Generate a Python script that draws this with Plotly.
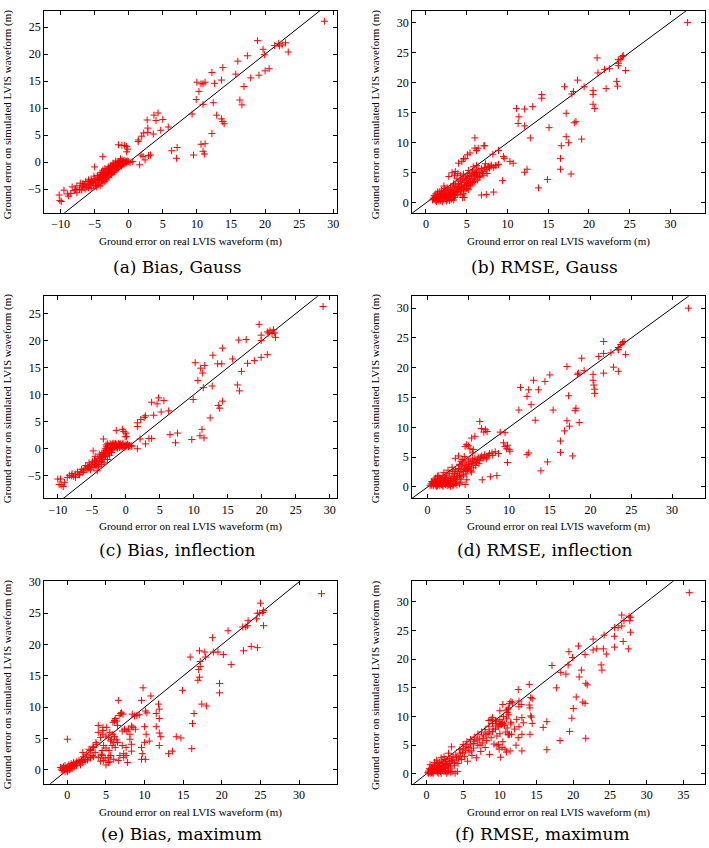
import plotly.graph_objects as go

W, H = 709, 848

# ---------------- data ----------------
bias_gauss = [
    (28.7, 26.1), (18.9, 22.5), (23.0, 22.1), (22.5, 21.7), (22.1, 21.5), (21.4, 21.6), (22.0, 22.0),
    (19.7, 20.9), (19.9, 19.9), (23.4, 20.4), (17.4, 19.7), (16.0, 18.7), (13.8, 17.5), (12.2, 16.6),
    (15.7, 16.3), (17.9, 15.6), (19.1, 16.1), (20.0, 16.9), (20.6, 17.3), (10.0, 14.8), (10.6, 14.5),
    (10.9, 14.5), (11.2, 14.8), (13.6, 15.2), (12.6, 14.6), (10.3, 13.1), (16.9, 14.0), (9.9, 11.6),
    (12.4, 11.0), (10.9, 10.7), (16.3, 11.5), (16.6, 10.6), (9.3, 8.9), (12.9, 8.7), (13.6, 8.0),
    (13.8, 7.5), (14.0, 7.1), (12.2, 5.3), (10.6, 3.3), (11.2, 3.4), (10.9, 2.0), (11.1, 1.5),
    (9.5, 1.3), (6.3, 2.1), (7.1, 2.7), (7.0, 0.7),
    (3.7, 8.7), (4.3, 9.1), (2.7, 7.8), (4.0, 7.7), (5.0, 7.9), (5.8, 6.5), (4.7, 5.9), (3.6, 5.2),
    (2.8, 6.3), (2.8, 5.5), (2.2, 5.4), (1.9, 4.8), (1.4, 4.1), (1.4, 3.8), (1.8, 1.3), (2.1, 1.0),
    (2.4, 0.4), (3.2, 1.3), (2.9, 1.2), (1.6, -0.5), (0.6, 0.1),
    (-1.5, 3.2), (-1.0, 3.1), (-0.6, 3.1), (-0.3, 2.9), (-0.15, 2.4), (-0.3, 1.9), (-3.8, 1.0), (-5.0, -0.9),
    (-10.2, -6.1), (-10.1, -7.1), (-9.9, -7.3), (-9.0, -5.9), (-8.5, -5.8), (-8.0, -5.3), (-7.6, -5.7),
    (-7.8, -5.1), (-7.2, -4.8), (-6.8, -4.4), (-6.6, -4.6), (-6.7, -4.0), (-6.2, -4.6), (-6.1, -4.2),
    (-5.9, -4.7), (-5.6, -3.9), (-5.5, -3.3), (-5.4, -3.6), (-5.1, -2.6), (-5.2, -4.4), (-4.9, -3.9),
    (-4.6, -3.3), (-4.4, -2.9), (-4.4, -3.7), (-4.1, -2.6), (-4.0, -3.4), (-3.9, -2.3), (-3.8, -3.1),
    (-3.7, -2.0), (-3.5, -2.8), (-3.4, -1.7), (-3.3, -2.5), (-3.2, -1.4), (-3.1, -2.1), (-2.9, -1.1),
    (-2.8, -1.9), (-2.7, -0.8), (-2.7, -1.5), (-2.5, -2.3), (-2.4, -0.7), (-2.3, -1.4), (-2.2, -0.5),
    (-2.1, -1.1), (-2.0, -0.3), (-1.8, -0.8), (-1.7, -0.1), (-1.6, -0.6), (-1.5, 0.1), (-1.3, -0.3),
    (-1.2, 0.3), (-1.1, -0.2), (-1.0, 0.4), (-0.8, 0.1), (-0.7, 0.3), (-0.6, -0.1), (-0.5, 0.2),
    (-0.3, 0.1), (-0.15, 0.2), (0.0, 0.1), (0.2, -0.1),
    (-4.7, -4.6), (-4.5, -4.2), (-4.2, -4.4), (-3.9, -3.9), (-3.6, -3.6), (-3.3, -3.3), (-2.9, -2.8),
    (-2.7, -2.3), (-2.2, -1.9), (-1.8, -1.4), (-1.5, -1.1), (-1.1, -0.8), (-0.7, -0.5),
    (-7.1, -3.9), (-6.3, -3.6), (-5.9, -3.3), (-7.6, -4.4), (-8.3, -4.6), (-9.5, -5.2),
    (-3.0, -1.7), (-2.6, -1.2), (-2.0, -0.9), (-1.4, -0.5), (-3.6, -2.3), (-4.2, -3.0), (-4.8, -3.4),
    (-5.3, -3.8), (-5.8, -4.1), (-3.2, -2.9), (-2.5, -1.6), (-1.9, -1.2), (-1.0, -0.4), (-0.4, -0.2),
    (-2.3, -0.2), (-1.9, 0.2), (-1.2, 0.6), (-3.5, -1.2), (-4.0, -1.9), (-4.6, -2.5), (-6.4, -5.0),
    (-5.5, -4.9), (-4.9, -4.3), (-6.9, -5.2), (-8.8, -6.3), (-7.2, -5.1),
    (-4.3, -3.2), (-3.7, -2.6), (-3.0, -2.2), (-2.4, -1.9), (-2.0, -1.5), (-1.6, -0.9), (-1.2, -0.6),
    (-0.9, -0.2), (-3.4, -2.2), (-2.8, -1.4), (-2.2, -0.9), (-1.8, -0.4), (-1.4, 0.0), (-2.6, -0.6),
    (-3.0, -0.9), (-3.8, -1.5), (-4.2, -2.2), (-5.0, -3.1), (-5.7, -3.5), (-6.5, -4.2),
]

rmse_gauss = [
    (32.1, 30.0), (21.0, 24.1), (21.1, 21.6), (24.1, 24.3), (23.9, 23.9), (24.2, 24.5), (23.6, 23.8),
    (23.6, 23.2), (23.6, 22.8), (22.5, 22.3), (24.5, 22.0), (21.9, 22.2), (18.6, 20.4), (19.4, 19.3),
    (17.0, 19.3), (18.1, 18.5), (17.9, 18.1), (20.5, 18.7), (20.5, 18.0), (22.1, 19.0), (23.4, 20.2),
    (23.5, 19.4), (20.5, 16.4), (20.7, 15.7), (14.2, 18.0), (14.2, 17.4), (13.1, 16.0), (11.1, 15.7),
    (11.4, 14.3), (12.1, 15.6), (11.3, 13.2), (12.1, 12.8), (17.2, 14.9), (15.1, 12.5), (12.8, 10.8),
    (18.2, 13.3), (18.4, 13.5), (17.2, 11.0), (17.5, 10.0), (19.1, 10.6), (16.6, 9.5), (16.5, 7.4),
    (16.5, 5.6), (17.8, 4.8), (12.4, 5.6), (12.1, 5.1), (14.9, 3.9), (13.8, 2.5), (9.5, 7.7), (9.6, 7.4),
    (10.7, 6.6), (10.3, 6.9), (8.9, 6.4), (8.5, 6.2), (9.4, 3.7), (8.3, 1.8), (7.4, 1.4), (6.8, 1.3),
    (4.5, 0.9), (4.7, 0.9), (6.0, 10.8), (6.4, 9.1), (6.2, 8.7), (6.0, 9.1), (7.1, 9.5), (7.2, 9.5),
    (5.4, 8.3), (5.1, 8.0), (4.6, 7.3), (4.8, 7.4), (4.4, 6.9), (4.0, 6.6), (3.6, 5.2), (3.2, 5.0),
    (2.8, 4.4), (7.3, 6.5), (7.7, 6.1), (8.0, 6.3), (8.2, 8.1), (8.9, 8.7),
    (0.8, 0.5), (0.9, 0.8), (1.0, 0.6), (1.1, 1.0), (1.2, 0.4), (1.3, 0.8), (1.4, 1.2), (1.5, 0.5),
    (1.5, 0.9), (1.6, 1.4), (1.7, 0.7), (1.8, 1.1), (1.8, 0.4), (1.9, 1.6), (2.0, 0.8), (2.0, 1.3),
    (2.1, 0.5), (2.2, 1.0), (2.2, 1.8), (2.3, 1.4), (2.4, 0.7), (2.4, 2.0), (2.5, 1.1), (2.6, 1.6),
    (2.6, 0.5), (2.7, 2.2), (2.8, 1.3), (2.8, 0.9), (2.9, 1.8), (3.0, 1.5), (3.0, 2.5), (3.1, 0.6),
    (3.1, 1.1), (3.2, 2.0), (3.3, 1.4), (3.3, 2.8), (3.4, 1.7), (3.5, 0.9), (3.5, 2.3), (3.6, 3.0),
    (3.7, 1.9), (3.8, 2.6), (3.9, 1.4), (4.0, 3.2), (4.0, 2.2), (1.2, 1.5), (1.6, 0.3), (2.9, 0.4),
    (3.4, 0.5), (2.3, 2.4), (1.9, 2.1), (1.4, 1.8),
    (4.1, 2.7), (4.2, 3.6), (4.3, 2.0), (4.4, 3.0), (4.5, 4.0), (4.6, 2.5), (4.7, 3.4), (4.8, 4.3),
    (4.9, 2.9), (5.0, 3.8), (5.1, 4.6), (5.2, 3.2), (5.3, 4.1), (5.4, 4.9), (5.5, 3.6), (5.6, 4.5),
    (5.7, 5.1), (5.8, 4.0), (5.9, 4.8), (6.0, 5.3), (6.1, 4.3), (6.2, 5.0), (6.3, 4.6), (6.4, 5.5),
    (6.5, 4.2), (6.6, 5.0), (6.8, 5.7), (7.0, 5.2), (7.2, 5.9), (7.4, 5.5), (7.6, 6.0), (7.8, 5.8),
    (8.0, 6.1), (8.3, 5.9), (8.6, 6.2), (5.0, 2.4), (5.5, 2.8), (6.0, 3.5), (4.6, 4.8), (5.2, 5.4),
    (5.8, 6.0), (6.2, 6.2), (4.2, 4.6), (3.8, 4.0), (3.9, 4.9), (3.5, 4.6),
    (1.0, 1.2), (1.3, 0.2), (1.7, 1.9), (2.1, 1.6), (2.5, 0.3), (2.7, 1.0), (3.2, 0.8), (3.6, 1.2),
    (3.8, 1.8), (4.2, 1.4), (4.4, 2.2), (4.6, 1.5), (4.8, 2.0), (5.2, 2.2), (5.4, 3.0), (5.7, 3.4),
    (6.0, 4.7), (6.3, 3.8), (6.6, 4.4), (6.9, 4.9), (7.1, 4.6), (7.5, 4.9), (2.2, 2.8), (2.6, 2.5),
    (3.4, 3.2), (4.3, 3.8), (4.9, 4.0), (5.3, 4.4), (3.0, 0.9), (2.0, 0.2), (1.4, 0.6), (1.8, 0.8),
    (2.3, 1.1), (2.7, 1.4), (3.1, 1.7), (3.5, 2.0), (3.9, 2.3), (4.3, 2.5), (4.7, 2.8), (5.1, 3.1),
    (5.5, 3.3), (5.9, 3.6),
]

bias_inflection = [
    (29.0, 26.3), (19.6, 23.0), (19.9, 21.0), (20.8, 21.6), (21.2, 21.8), (21.7, 22.0), (21.9, 21.4),
    (21.5, 21.3), (21.0, 21.4), (22.0, 20.6), (19.9, 20.0), (16.6, 20.1), (17.7, 20.2), (14.2, 18.6),
    (12.8, 17.3), (15.7, 16.6), (17.9, 15.8), (18.9, 16.3), (19.9, 16.9), (20.8, 17.4), (10.2, 15.9),
    (11.0, 14.9), (11.3, 14.0), (11.6, 15.4), (13.5, 15.7), (14.1, 15.7), (10.6, 12.6), (12.7, 11.6),
    (11.4, 11.3), (17.0, 14.3), (16.4, 11.8), (16.7, 10.7), (9.9, 9.1), (14.2, 8.8), (13.6, 8.0),
    (13.8, 7.5), (12.4, 5.7), (11.2, 3.6), (10.9, 2.4), (11.5, 2.0), (9.7, 1.7), (6.5, 2.6), (7.6, 2.9),
    (7.3, 1.1),
    (3.8, 8.6), (4.6, 8.3), (4.8, 9.4), (5.6, 8.9), (6.3, 7.0), (5.2, 6.8), (4.1, 6.2), (2.9, 6.1),
    (2.7, 5.8), (2.2, 5.4), (1.7, 4.8), (1.7, 4.1), (3.4, 1.9), (3.8, 1.9), (2.9, 0.9), (2.1, 1.8),
    (1.7, 0.0), (0.8, 0.5),
    (-1.4, 3.4), (-0.5, 3.6), (-0.3, 3.2), (0.0, 2.9), (0.1, 2.3), (-0.1, 2.2), (-3.3, 1.8),
    (-10.0, -5.6), (-9.6, -5.6), (-9.8, -6.6), (-9.5, -6.7), (-9.0, -6.2), (-9.2, -7.0), (-8.6, -5.3),
    (-8.3, -4.9), (-7.7, -5.1), (-7.4, -4.7), (-7.1, -4.3), (-6.7, -4.3), (-6.5, -3.8), (-6.2, -4.1),
    (-6.0, -3.6), (-5.9, -3.1), (-5.7, -3.9), (-5.6, -3.3), (-5.3, -3.2), (-5.2, -3.9), (-5.1, -2.9),
    (-4.9, -2.4), (-4.8, -0.4), (-4.7, -3.5), (-4.6, -2.1), (-4.4, -3.1), (-4.3, -2.6), (-4.2, -4.1),
    (-4.1, -1.8), (-4.0, -3.3), (-3.8, -2.3), (-3.7, -1.5), (-3.6, -2.9), (-3.5, -1.0), (-3.4, -2.0),
    (-3.3, -0.7), (-3.2, -2.6), (-3.1, -0.4), (-3.1, -1.5), (-3.0, 0.0), (-2.9, -1.0), (-2.8, 0.4),
    (-2.7, -2.0), (-2.6, -0.4), (-2.5, 0.6), (-2.4, -1.2), (-2.3, 0.1), (-2.2, 0.7), (-2.1, -0.7),
    (-2.0, 0.4), (-2.0, 0.8), (-1.9, -0.1), (-1.8, 0.6), (-1.7, 0.9), (-1.6, 0.2), (-1.5, 0.7),
    (-1.4, 0.5), (-1.3, 0.8), (-1.2, 0.4), (-1.0, 0.7), (-0.9, 0.5), (-0.8, 0.9), (-0.6, 0.6),
    (-0.5, 0.8), (-0.3, 0.5), (-0.1, 0.7), (0.1, 0.6), (0.3, 0.8), (0.6, 0.6), (0.9, 0.5),
    (-2.9, 0.7), (-2.7, 0.9), (-2.5, 0.2), (-2.3, 0.9), (-2.1, 0.3), (-1.9, 1.0), (-1.7, 0.3),
    (-1.5, 1.0), (-1.3, 0.2), (-1.1, 1.0), (-0.9, 0.2), (-0.7, 0.4), (-0.4, 1.0), (-0.2, 0.3),
    (0.2, 0.9), (0.4, 0.4), (-6.9, -4.8), (-7.9, -4.6), (-5.4, -2.6), (-4.5, -1.4), (-3.9, -1.0),
    (-3.0, -1.4), (-2.6, -0.9),
    (-4.4, -2.3), (-3.9, -1.8), (-3.5, -1.6), (-3.0, -0.8), (-2.7, -0.3), (-2.3, -0.4), (-2.0, 0.1),
    (-1.7, 0.6), (-1.2, 0.1), (-0.9, 0.8), (-0.5, 0.4), (0.0, 0.5), (0.5, 0.6), (-2.4, 0.4),
    (-2.8, 0.1), (-3.3, -1.2), (-3.6, -2.4), (-4.0, -2.9), (-4.6, -2.8), (-5.0, -3.4), (-5.5, -3.6),
    (-6.3, -4.4), (-6.8, -4.8), (-7.4, -5.3), (-8.0, -5.0),
]

rmse_inflection = [
    (32.0, 30.0), (21.6, 24.4), (21.0, 21.9), (21.6, 22.4), (22.5, 22.5), (23.7, 23.9), (23.9, 24.2),
    (24.1, 24.4), (23.4, 23.4), (23.4, 23.0), (23.4, 23.1), (24.3, 22.2), (21.6, 19.1), (20.3, 18.9),
    (20.3, 17.9), (20.4, 17.1), (20.5, 16.4), (20.5, 15.7), (18.9, 21.6), (19.2, 19.5), (18.4, 18.9),
    (18.5, 19.1), (17.1, 20.2), (22.8, 20.1), (23.4, 19.4), (17.3, 15.3), (15.0, 18.8), (14.4, 17.7),
    (13.0, 17.9), (13.6, 16.3), (11.4, 16.7), (12.4, 16.3), (12.2, 15.2), (12.7, 13.8), (11.2, 12.9),
    (15.4, 12.9), (13.2, 11.2), (18.2, 13.2), (18.1, 12.8), (17.1, 11.1), (17.4, 10.2), (16.8, 9.4),
    (18.6, 10.8), (16.3, 7.7), (16.3, 5.8), (17.8, 5.2), (12.4, 5.7), (12.2, 5.4), (14.7, 4.2),
    (13.9, 2.7), (9.5, 6.8), (9.8, 7.0), (9.3, 7.4), (10.0, 6.3), (10.1, 6.0), (9.7, 6.4), (9.8, 4.1),
    (9.5, 9.1), (8.9, 9.2), (8.5, 1.9), (7.7, 1.7), (6.7, 1.2), (4.6, 0.4), (6.4, 11.0), (6.6, 9.8),
    (7.1, 9.6), (6.9, 9.2), (7.3, 9.3), (5.4, 8.2), (5.8, 8.5), (4.8, 7.1), (5.0, 6.9), (4.6, 6.8),
    (3.8, 5.2), (3.4, 4.8), (5.2, 6.4), (5.6, 6.3),
    (0.3, 0.2), (0.4, 0.5), (0.5, 0.3), (0.6, 0.7), (0.7, 0.2), (0.8, 0.5), (0.9, 1.0), (1.0, 0.3),
    (1.1, 0.6), (1.2, 1.2), (1.3, 0.4), (1.4, 0.8), (1.5, 0.2), (1.5, 1.5), (1.6, 0.6), (1.7, 1.0),
    (1.8, 0.3), (1.9, 1.8), (2.0, 0.7), (2.1, 1.2), (2.2, 0.4), (2.3, 2.0), (2.4, 0.9), (2.5, 1.5),
    (2.6, 0.3), (2.7, 2.3), (2.8, 1.1), (2.9, 0.6), (3.0, 1.8), (3.1, 2.6), (3.2, 0.4), (3.3, 1.4),
    (3.4, 2.9), (3.5, 0.8), (3.6, 2.2), (3.7, 1.6), (3.8, 3.1), (3.9, 0.5), (4.0, 2.5), (1.0, 1.5),
    (1.3, 1.9), (0.8, 1.3), (2.0, 2.4), (2.5, 2.8), (3.0, 3.3), (1.8, 1.5), (2.4, 0.2), (3.1, 0.2),
    (3.6, 0.3), (1.1, 0.1), (1.9, 0.1), (2.8, 0.1),
    (4.1, 3.5), (4.2, 1.8), (4.3, 4.0), (4.4, 2.6), (4.5, 3.2), (4.6, 4.5), (4.7, 2.2), (4.8, 3.7),
    (4.9, 2.9), (5.0, 4.2), (5.1, 3.4), (5.2, 4.7), (5.3, 2.7), (5.4, 3.9), (5.5, 4.5), (5.6, 3.2),
    (5.8, 4.8), (6.0, 4.1), (6.2, 5.0), (6.4, 4.5), (6.6, 5.2), (6.8, 4.8), (7.0, 5.4), (7.3, 5.0),
    (7.6, 5.6), (8.0, 5.3), (8.3, 5.9), (8.7, 5.6), (4.3, 4.6), (4.5, 5.1), (4.1, 4.3), (3.9, 3.8),
    (5.5, 5.7), (4.8, 1.2),
    (0.5, 0.9), (0.7, 0.5), (1.0, 0.8), (1.2, 0.2), (1.4, 0.5), (1.6, 1.1), (1.7, 0.4), (2.0, 1.0),
    (2.2, 1.5), (2.3, 0.7), (2.5, 0.5), (2.6, 1.1), (2.9, 1.4), (3.0, 0.9), (3.2, 1.7), (3.3, 2.2),
    (3.5, 1.2), (3.7, 2.6), (3.9, 1.9), (4.0, 1.3), (4.2, 2.9), (4.4, 2.0), (4.6, 3.5), (4.7, 2.7),
    (5.0, 3.1), (5.2, 3.8), (5.4, 2.5), (5.7, 4.2), (5.9, 3.6), (6.1, 4.6), (6.3, 3.9), (6.5, 4.9),
    (6.9, 5.0), (7.2, 4.7), (7.5, 5.3), (7.9, 5.7), (2.7, 0.4), (3.4, 0.6), (4.1, 0.8), (1.2, 1.8),
]

bias_maximum = [
    (32.9, 28.1), (25.0, 26.6), (25.4, 25.4), (24.6, 25.0), (24.9, 25.0), (25.3, 25.1), (24.5, 24.1),
    (23.4, 23.8), (22.7, 22.8), (23.1, 22.8), (23.3, 23.0), (25.4, 23.0), (20.8, 22.2), (18.8, 21.1),
    (22.8, 19.0), (23.8, 19.7), (24.6, 19.5), (17.1, 19.0), (17.8, 18.8), (18.9, 18.8), (19.5, 18.8),
    (17.9, 18.0), (15.9, 18.0), (17.2, 17.3), (20.2, 18.4), (21.2, 16.8), (17.0, 16.0), (17.2, 16.5),
    (17.1, 14.8), (16.9, 14.3), (19.7, 13.8), (19.7, 12.3), (14.9, 12.7), (17.4, 10.5), (18.0, 10.2),
    (16.4, 9.0), (16.2, 7.4), (16.1, 3.4), (13.6, 3.0), (13.1, 2.6), (14.1, 5.3), (14.7, 5.1),
    (11.8, 10.5), (11.9, 9.7), (11.5, 9.0), (11.9, 8.2), (11.5, 6.9), (11.9, 5.9), (12.1, 5.3),
    (11.9, 3.9), (10.8, 11.8), (9.8, 13.1), (9.6, 11.1), (10.1, 9.4), (10.3, 9.1), (9.3, 8.8),
    (10.0, 6.9), (10.2, 5.7), (10.0, 4.4), (10.6, 4.6), (9.6, 3.6), (9.7, 2.6), (9.6, 1.7), (10.1, 1.7),
    (6.6, 11.1), (7.0, 9.1), (7.2, 8.9), (6.2, 8.2), (6.1, 7.8), (6.5, 7.1), (4.6, 6.8), (4.0, 7.1),
    (0.0, 4.9), (8.4, 8.9), (8.7, 8.6), (9.0, 8.7), (8.3, 7.0), (8.5, 6.8), (8.8, 6.5), (7.9, 6.5),
    (7.4, 6.5), (7.7, 6.2), (7.1, 6.2), (8.1, 5.7), (8.1, 4.9), (8.3, 4.1), (7.6, 3.6), (8.3, 3.0),
    (7.6, 2.3), (7.8, 1.2), (5.5, 6.0), (5.9, 5.7), (6.1, 5.3), (5.7, 4.9), (6.5, 4.4), (7.1, 3.9),
    (7.3, 2.6), (6.8, 2.3), (4.4, 2.5), (5.3, 2.0), (5.5, 1.3), (4.7, 1.5),
    (6.1, 7.9), (5.9, 7.6), (6.9, 9.0), (6.7, 8.7), (6.4, 7.8), (5.1, 6.8), (4.6, 6.3), (4.0, 6.0),
    (4.6, 5.7), (5.0, 5.4), (5.3, 5.2), (4.3, 5.2), (5.6, 4.6), (6.0, 4.4), (6.4, 4.8), (5.8, 3.9),
    (6.2, 3.6), (4.7, 3.9), (5.0, 3.5), (5.4, 3.1), (4.5, 3.1), (3.8, 4.1), (3.4, 3.6), (3.0, 3.1),
    (2.5, 2.5), (2.1, 2.1), (3.6, 2.8), (3.2, 2.3), (2.8, 2.0), (2.3, 1.7), (1.9, 1.5), (4.0, 2.0),
    (4.5, 2.3), (4.9, 1.9), (4.3, 1.4), (5.6, 2.3), (6.0, 1.7), (5.3, 1.2), (6.6, 1.5), (7.3, 2.0),
    (5.0, 0.8), (2.0, 2.8), (2.8, 3.3), (3.3, 3.7), (3.7, 4.4),
    (-0.9, 0.4), (-0.7, 0.3), (-0.5, 0.5), (-0.4, 0.1), (-0.3, 0.7), (-0.1, 0.3), (0.0, -0.1),
    (0.0, 0.5), (0.2, 0.8), (0.3, 0.3), (0.4, 0.6), (0.5, 1.0), (0.6, 0.5), (0.7, 0.8), (0.8, 1.2),
    (1.0, 1.0), (1.2, 1.3), (1.2, 1.1), (1.5, 1.5), (1.6, 1.2), (1.8, 1.6), (-0.6, -0.1), (-0.3, -0.3),
    (0.0, -0.3), (0.3, 0.0), (0.6, 0.2), (-0.8, 0.0), (0.9, 0.5), (1.2, 0.7), (1.7, 0.8), (2.0, 1.2),
    (2.3, 1.4), (2.6, 1.6), (3.0, 1.9), (3.4, 2.1),
]

rmse_maximum = [
    (35.8, 31.6), (26.6, 27.7), (27.6, 27.5), (27.8, 27.3), (27.7, 26.7), (26.9, 26.7), (25.6, 25.5),
    (26.1, 25.5), (26.6, 25.8), (24.2, 24.2), (22.7, 23.5), (23.2, 21.8), (22.7, 21.6), (24.5, 20.9),
    (24.1, 21.8), (27.8, 24.7), (25.6, 24.0), (25.6, 22.1), (26.8, 23.1), (27.5, 21.8), (23.8, 19.0),
    (23.9, 18.1), (20.7, 22.3), (21.6, 20.8), (19.4, 21.3), (19.9, 20.3), (19.3, 19.0), (17.1, 18.9),
    (18.3, 17.7), (19.0, 17.4), (20.8, 16.9), (21.1, 18.1), (21.7, 15.8), (21.9, 15.5), (17.7, 15.0),
    (14.0, 15.6), (12.5, 14.7), (14.2, 13.3), (14.4, 13.1), (20.4, 13.4), (21.3, 12.5), (21.6, 12.3),
    (20.0, 11.4), (19.8, 9.7), (19.5, 7.4), (21.7, 6.2), (18.2, 5.8), (16.4, 4.2), (16.4, 9.1),
    (15.9, 8.1), (14.2, 10.1), (14.3, 9.9), (14.4, 8.8), (14.1, 6.9), (13.0, 4.0), (14.0, 12.0),
    (14.1, 11.5), (12.6, 12.7), (12.9, 12.1), (12.6, 11.7), (11.3, 12.3), (11.5, 12.6), (11.7, 12.4),
    (11.1, 11.3), (10.9, 11.1), (11.2, 11.5), (10.4, 12.1), (10.0, 11.0), (11.5, 8.7), (11.6, 6.9),
    (13.0, 6.9), (12.5, 6.3), (11.1, 6.9), (11.3, 6.9), (10.7, 4.3), (11.4, 4.0), (10.9, 3.8),
    (12.2, 5.0), (10.1, 2.9), (9.6, 4.9), (9.9, 4.3), (10.3, 4.6), (9.8, 5.1), (10.1, 8.7), (10.4, 8.8),
    (10.6, 8.7), (9.9, 8.7), (8.8, 9.5), (9.0, 9.8), (9.4, 9.2), (8.5, 9.3), (11.2, 10.3),
    (0.2, 0.2), (0.3, 0.5), (0.4, 0.3), (0.5, 0.8), (0.6, 0.4), (0.7, 0.2), (0.7, 1.0), (0.8, 0.6),
    (0.9, 1.3), (1.0, 0.3), (1.0, 0.9), (1.1, 0.6), (1.2, 1.5), (1.3, 0.4), (1.3, 1.1), (1.4, 0.8),
    (1.5, 1.8), (1.5, 0.3), (1.6, 1.2), (1.7, 0.6), (1.8, 2.0), (1.8, 1.0), (1.9, 0.4), (2.0, 1.5),
    (2.1, 2.2), (2.2, 0.8), (2.3, 1.8), (2.4, 1.2), (2.5, 2.5), (2.6, 0.5), (2.7, 1.6), (2.8, 2.2),
    (3.0, 1.0), (3.1, 2.7), (3.2, 1.8), (3.4, 2.3), (3.5, 0.4), (3.6, 3.0), (3.8, 2.0), (4.0, 3.3),
    (4.2, 0.4), (4.4, 2.6), (0.9, 0.1), (1.6, 0.1), (2.9, 0.3), (3.3, 0.3), (0.5, 1.6), (1.1, 2.0),
    (1.4, 2.4), (2.0, 2.8), (2.4, 3.0), (3.0, 3.6), (3.4, 4.7), (2.7, 0.1), (3.9, 0.1),
    (4.6, 3.6), (4.8, 2.5), (5.0, 4.4), (5.2, 3.0), (5.4, 4.8), (5.6, 2.2), (5.8, 3.8), (6.0, 5.2),
    (6.2, 3.2), (6.4, 4.5), (6.6, 5.7), (6.8, 2.8), (7.0, 5.0), (7.2, 6.1), (7.4, 3.9), (7.6, 5.4),
    (7.8, 6.6), (8.0, 4.6), (8.2, 5.8), (8.4, 7.0), (8.6, 3.4), (8.8, 6.3), (9.0, 7.4), (9.2, 5.2),
    (9.4, 7.8), (9.6, 6.6), (9.8, 8.2), (10.0, 7.0), (10.2, 8.6), (10.4, 5.6), (10.6, 8.4), (10.8, 7.3),
    (11.0, 8.0), (11.2, 6.8), (11.5, 9.0), (12.0, 7.8), (12.3, 9.5), (12.6, 8.2), (13.0, 9.8),
    (13.2, 8.9), (4.5, 4.2), (5.0, 5.1), (5.5, 5.6), (6.0, 6.0), (6.5, 6.4), (7.0, 6.9), (7.5, 7.3),
    (8.0, 7.7), (8.5, 8.3), (9.0, 8.8), (9.5, 9.2), (10.0, 9.5), (10.5, 10.0), (11.0, 10.7),
    (0.3, 0.1), (0.6, 0.1), (0.4, 0.9), (0.8, 0.3), (1.2, 0.8), (1.5, 1.2), (1.7, 1.4), (1.9, 1.0),
    (2.1, 0.6), (2.2, 1.4), (2.5, 1.0), (2.6, 1.8), (2.9, 1.4), (3.1, 2.1), (3.3, 1.2), (3.6, 2.4),
    (3.8, 1.5), (4.1, 2.8), (4.3, 1.8), (4.6, 3.0), (4.9, 3.7), (5.3, 4.1), (5.7, 4.6), (6.1, 4.0),
    (6.4, 5.3), (6.9, 5.9), (7.3, 5.0), (7.7, 6.2), (8.1, 6.9), (8.6, 7.3), (9.1, 7.8), (9.6, 8.5),
    (10.3, 8.9), (10.9, 9.6), (2.0, 0.1), (2.4, 0.4), (3.0, 0.5),
]

captions = ["(a) Bias, Gauss", "(b) RMSE, Gauss", "(c) Bias, inflection",
            "(d) RMSE, inflection", "(e) Bias, maximum", "(f) RMSE, maximum"]
x_title = "Ground error on real LVIS waveform (m)"
y_title = "Ground error on simulated LVIS waveform (m)"

ticks_bias_x = [-10, -5, 0, 5, 10, 15, 20, 25, 30]
ticks_bias_y = [-5, 0, 5, 10, 15, 20, 25]
ticks_0_30 = [0, 5, 10, 15, 20, 25, 30]
ticks_0_35 = [0, 5, 10, 15, 20, 25, 30, 35]

# ---------------- layout config (pixels) ----------------
panels = [
    dict(data=bias_gauss, frame=(44.3, 338.3, 5, 208.3), xr=(-12.4, 30.6), yr=(-9.4, 28.0),
         xt=ticks_bias_x, yt=ticks_bias_y, xtit=(191, 237), ytit=(7, 109), cap=(178, 263)),
    dict(data=rmse_gauss, frame=(413.3, 706.7, 5, 208.3), xr=(-1.7, 34.2), yr=(-1.65, 31.9),
         xt=ticks_0_30, yt=ticks_0_30, xtit=(560, 237), ytit=(376, 109), cap=(546, 263)),
    dict(data=bias_inflection, frame=(44.3, 338.3, 292.3, 496), xr=(-12.0, 31.1), yr=(-9.2, 28.2),
         xt=ticks_bias_x, yt=ticks_bias_y, xtit=(191, 524), ytit=(7, 395), cap=(178, 548)),
    dict(data=rmse_inflection, frame=(413.3, 706.7, 292.3, 496), xr=(-1.9, 34.0), yr=(-1.94, 32.0),
         xt=ticks_0_30, yt=ticks_0_30, xtit=(560, 524), ytit=(376, 395), cap=(546, 548)),
    dict(data=bias_maximum, frame=(44.3, 338.3, 579.3, 783.3), xr=(-3.0, 34.95), yr=(-2.2, 30.1),
         xt=ticks_0_30, yt=ticks_0_30, xtit=(191, 812), ytit=(7, 683), cap=(182, 834)),
    dict(data=rmse_maximum, frame=(413.3, 706.7, 579.3, 783.3), xr=(-1.95, 37.9), yr=(-1.73, 33.6),
         xt=ticks_0_35, yt=ticks_0_30, xtit=(560, 812), ytit=(376, 684), cap=(544, 834)),
]

SERIF = "Liberation Serif, Times New Roman, serif"
CAPFONT = "DejaVu Serif, serif"

fig = go.Figure()
layout = dict(width=W, height=H, margin=dict(l=0, r=0, t=0, b=0),
              paper_bgcolor="white", plot_bgcolor="white", showlegend=False,
              hovermode=False,
              font=dict(family=SERIF, color="black"))
annotations = []

for i, p in enumerate(panels):
    n = "" if i == 0 else str(i + 1)
    L, R, T, B = p["frame"]
    xs = [pt[0] for pt in p["data"]]
    ys = [pt[1] for pt in p["data"]]
    lo = min(p["xr"][0], p["yr"][0]) - 1
    hi = max(p["xr"][1], p["yr"][1]) + 1
    fig.add_trace(go.Scatter(x=[lo, hi], y=[lo, hi], mode="lines",
                             line=dict(color="black", width=1),
                             xaxis="x" + n, yaxis="y" + n, hoverinfo="skip"))
    fig.add_trace(go.Scatter(x=xs, y=ys, mode="markers",
                             marker=dict(symbol="cross-thin", size=5, color="red",
                                         line=dict(color="red", width=1)),
                             xaxis="x" + n, yaxis="y" + n))
    axcommon = dict(showline=True, linecolor="black", linewidth=1, mirror="ticks",
                    ticks="inside", ticklen=4, tickcolor="black", tickwidth=1,
                    showgrid=False, zeroline=False,
                    tickfont=dict(family=SERIF, size=12, color="black"))
    layout["xaxis" + n] = dict(axcommon, domain=[L / W, R / W], range=list(p["xr"]),
                               tickvals=p["xt"], anchor="y" + n)
    layout["yaxis" + n] = dict(axcommon, domain=[1 - B / H, 1 - T / H], range=list(p["yr"]),
                               tickvals=p["yt"], anchor="x" + n)
    annotations.append(dict(text=x_title, x=p["xtit"][0] / W, y=1 - p["xtit"][1] / H,
                            xref="paper", yref="paper", showarrow=False,
                            xanchor="center", yanchor="middle",
                            font=dict(family=SERIF, size=11, color="black")))
    annotations.append(dict(text=y_title, x=p["ytit"][0] / W, y=1 - p["ytit"][1] / H,
                            xref="paper", yref="paper", showarrow=False, textangle=-90,
                            xanchor="center", yanchor="middle",
                            font=dict(family=SERIF, size=11, color="black")))
    annotations.append(dict(text=captions[i], x=p["cap"][0] / W, y=1 - p["cap"][1] / H,
                            xref="paper", yref="paper", showarrow=False,
                            xanchor="center", yanchor="middle",
                            font=dict(family=CAPFONT, size=17, color="black")))

layout["annotations"] = annotations
fig.update_layout(**layout)
fig.write_html("out.html", config={"displayModeBar": False},
               post_script="document.body.style.margin='0px';")
